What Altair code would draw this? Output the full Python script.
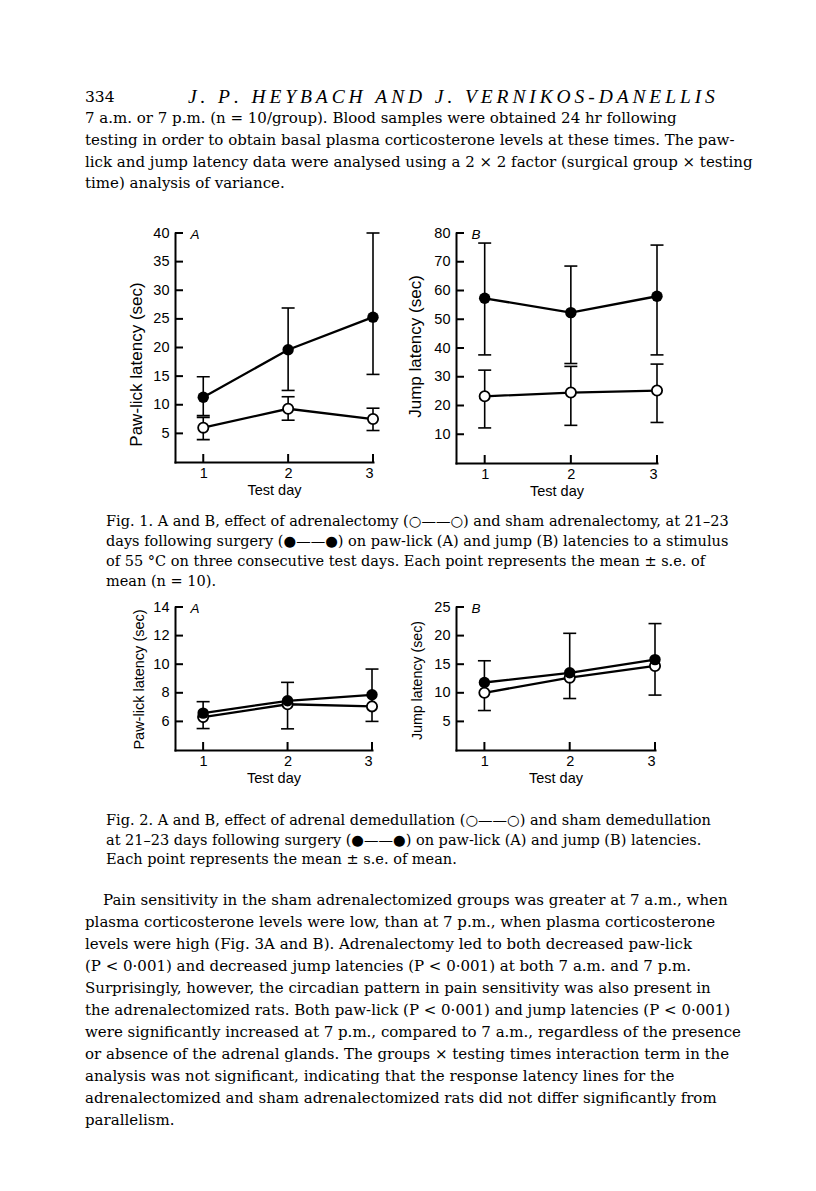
import altair as alt
import pandas as pd

SANS = "Liberation Sans"
SERIF = "DejaVu Serif"
HEAD_SERIF = "Liberation Serif"

DAYS = [1, 2, 3]
X_MIN = 0.667

# ---- Fig. 1A : paw-lick latency, adrenalectomy ----
F1A_SHAM_MEAN = [11.3, 19.6, 25.3]
F1A_SHAM_LO = [8.1, 12.5, 15.3]
F1A_SHAM_HI = [14.9, 26.9, 40.0]
F1A_ADX_MEAN = [6.0, 9.3, 7.5]
F1A_ADX_LO = [3.9, 7.3, 5.5]
F1A_ADX_HI = [7.8, 11.4, 9.4]
F1A_TICKS = [5, 10, 15, 20, 25, 30, 35, 40]

# ---- Fig. 1B : jump latency, adrenalectomy ----
F1B_SHAM_MEAN = [57.3, 52.3, 58.0]
F1B_SHAM_LO = [37.6, 34.6, 37.6]
F1B_SHAM_HI = [76.5, 68.5, 75.8]
F1B_ADX_MEAN = [23.2, 24.5, 25.2]
F1B_ADX_LO = [12.2, 13.1, 14.1]
F1B_ADX_HI = [32.3, 33.6, 34.4]
F1B_TICKS = [10, 20, 30, 40, 50, 60, 70, 80]

# ---- Fig. 2A : paw-lick latency, demedullation ----
F2A_SHAM_MEAN = [6.58, 7.44, 7.86]
F2A_SHAM_LO = [5.5, 5.48, 6.0]
F2A_SHAM_HI = [7.38, 8.73, 9.66]
F2A_DEM_MEAN = [6.3, 7.2, 7.05]
F2A_DEM_LO = [None, None, None]
F2A_DEM_HI = [None, None, None]
F2A_TICKS = [6, 8, 10, 12, 14]

# ---- Fig. 2B : jump latency, demedullation ----
F2B_SHAM_MEAN = [11.8, 13.5, 15.8]
F2B_SHAM_LO = [None, None, None]
F2B_SHAM_HI = [15.6, 20.4, 22.1]
F2B_DEM_MEAN = [10.0, 12.65, 14.7]
F2B_DEM_LO = [6.9, 9.0, 9.6]
F2B_DEM_HI = [None, None, None]
F2B_TICKS = [5, 10, 15, 20, 25]

# ---- page text ----
PAGE_NO = "334"
RUNNING_HEAD = "J. P. HEYBACH AND J. VERNIKOS-DANELLIS"
PARA_TOP = [
    "7 a.m. or 7 p.m. (n = 10/group). Blood samples were obtained 24 hr following",
    "testing in order to obtain basal plasma corticosterone levels at these times. The paw-",
    "lick and jump latency data were analysed using a 2 × 2 factor (surgical group × testing",
    "time) analysis of variance.",
]
CAPTION_1 = [
    "Fig. 1. A and B, effect of adrenalectomy (○——○) and sham adrenalectomy, at 21–23",
    "days following surgery (●——●) on paw-lick (A) and jump (B) latencies to a stimulus",
    "of 55 °C on three consecutive test days. Each point represents the mean ± s.e. of",
    "mean (n = 10).",
]
CAPTION_2 = [
    "Fig. 2. A and B, effect of adrenal demedullation (○——○) and sham demedullation",
    "at 21–23 days following surgery (●——●) on paw-lick (A) and jump (B) latencies.",
    "Each point represents the mean ± s.e. of mean.",
]
BODY = [
    "Pain sensitivity in the sham adrenalectomized groups was greater at 7 a.m., when",
    "plasma corticosterone levels were low, than at 7 p.m., when plasma corticosterone",
    "levels were high (Fig. 3A and B). Adrenalectomy led to both decreased paw-lick",
    "(P < 0·001) and decreased jump latencies (P < 0·001) at both 7 a.m. and 7 p.m.",
    "Surprisingly, however, the circadian pattern in pain sensitivity was also present in",
    "the adrenalectomized rats. Both paw-lick (P < 0·001) and jump latencies (P < 0·001)",
    "were significantly increased at 7 p.m., compared to 7 a.m., regardless of the presence",
    "or absence of the adrenal glands. The groups × testing times interaction term in the",
    "analysis was not significant, indicating that the response latency lines for the",
    "adrenalectomized and sham adrenalectomized rats did not differ significantly from",
    "parallelism.",
]

LEFT_W = 164


def panel(filled, hollow, ydom, yticks, ytitle, letter, w, h,
          title_size, title_x, title_y):
    pts, errs, caps = [], [], []
    for name, (mean, lo, hi) in (("open", hollow), ("filled", filled)):
        for d, m, l, u in zip(DAYS, mean, lo, hi):
            pts.append({"day": d, "v": m, "s": name})
            a = l if l is not None else m
            b = u if u is not None else m
            if a != b:
                errs.append({"day": d, "lo": a, "hi": b})
            for c in (l, u):
                if c is not None:
                    caps.append({"day": d, "v": c})
    pts = pd.DataFrame(pts)
    errs = pd.DataFrame(errs)
    caps = pd.DataFrame(caps)
    yt = pd.DataFrame({"v": yticks})
    xt = pd.DataFrame({"day": DAYS})

    xs = alt.Scale(domain=[X_MIN, 3], nice=False, zero=False)
    ys = alt.Scale(domain=ydom, nice=False, zero=False)

    xax = alt.Axis(values=DAYS, format="d", ticks=False, tickSize=0, grid=False,
                   domainColor="black", domainWidth=2, domainCap="square",
                   labelFont=SANS, labelFontSize=14.5, labelColor="black",
                   labelPadding=4, title="Test day", titleFont=SANS,
                   titleFontSize=14.5, titleFontWeight="normal", titleColor="black",
                   titleY=28, titleBaseline="middle")
    yax = alt.Axis(values=yticks, ticks=False, tickSize=0, grid=False,
                   domainColor="black", domainWidth=2, domainCap="square",
                   labelFont=SANS, labelFontSize=14.5, labelColor="black",
                   labelPadding=6, title=ytitle, titleFont=SANS,
                   titleFontSize=title_size, titleFontWeight="normal",
                   titleColor="black", titleX=title_x, titleY=title_y,
                   titleBaseline="middle", titleAlign="center", titleAngle=270)

    X = alt.X("day:Q", scale=xs, axis=xax)

    def Y(f):
        return alt.Y(f, scale=ys, axis=yax)

    rules = alt.Chart(errs).mark_rule(color="black", strokeWidth=1.6).encode(
        x=X, y=Y("lo:Q"), y2="hi:Q",
    )
    cap_marks = alt.Chart(caps).mark_tick(
        orient="horizontal", size=13, thickness=1.6, color="black", opacity=1
    ).encode(x=X, y=Y("v:Q"))
    ytick_marks = alt.Chart(yt).mark_tick(
        orient="horizontal", size=8, thickness=2, color="black", opacity=1
    ).encode(x=alt.value(4), y=Y("v:Q"))
    xtick_marks = alt.Chart(xt).mark_tick(
        orient="vertical", size=8, thickness=2, color="black", opacity=1
    ).encode(x=X, y=alt.value(h - 4))
    lines = alt.Chart(pts).mark_line(color="black", strokeWidth=2.3).encode(
        x=X, y=Y("v:Q"), detail="s:N",
    )
    open_pts = alt.Chart(pts).transform_filter(alt.datum.s == "open").mark_point(
        shape="circle", filled=True, fill="white", stroke="black",
        strokeWidth=1.8, size=105, opacity=1
    ).encode(x=X, y=Y("v:Q"))
    filled_pts = alt.Chart(pts).transform_filter(alt.datum.s == "filled").mark_circle(
        color="black", size=130, opacity=1
    ).encode(x=X, y=Y("v:Q"))
    lab = alt.Chart(pd.DataFrame({"t": [letter]})).mark_text(
        font=SANS, fontSize=13.5, fontStyle="italic", align="center",
        baseline="middle", color="black"
    ).encode(x=alt.value(20), y=alt.value(2), text="t:N")

    return alt.layer(rules, cap_marks, ytick_marks, xtick_marks, lines,
                     open_pts, filled_pts, lab).properties(width=w, height=h)


def spacer(w, h=1):
    return alt.Chart(pd.DataFrame({"a": [0]})).mark_point(opacity=0).encode(
        x=alt.value(0), y=alt.value(0)
    ).properties(width=w, height=h)


def text_block(lines, x_first, x_rest, y0, lead, size, style="normal", font=SERIF):
    df = pd.DataFrame({
        "t": lines,
        "x": [x_first if i == 0 else x_rest for i in range(len(lines))],
        "y": [y0 + i * lead for i in range(len(lines))],
    })
    return alt.Chart(df).mark_text(
        font=font, fontSize=size, fontStyle=style, align="left",
        baseline="middle", color="black"
    ).encode(
        x=alt.X("x:Q", scale=None, axis=None),
        y=alt.Y("y:Q", scale=None, axis=None),
        text="t:N",
    )


# ---- row 1: running head + paragraph ----
head = "\u2009".join(RUNNING_HEAD)
row1 = alt.layer(
    text_block([PAGE_NO], 74, 74, 86, 0, 15.5),
    text_block([head], 177, 177, 86, 0, 19.5, "italic", HEAD_SERIF),
    text_block(PARA_TOP, 74, 74, 107, 21.8, 15.0),
).properties(width=LEFT_W, height=222)

# ---- Fig. 1 ----
f1a = panel((F1A_SHAM_MEAN, F1A_SHAM_LO, F1A_SHAM_HI),
            (F1A_ADX_MEAN, F1A_ADX_LO, F1A_ADX_HI),
            [0, 40], F1A_TICKS, "Paw-lick latency (sec)", "A", 198, 229,
            17, -39, 131)
f1b = panel((F1B_SHAM_MEAN, F1B_SHAM_LO, F1B_SHAM_HI),
            (F1B_ADX_MEAN, F1B_ADX_LO, F1B_ADX_HI),
            [0, 80], F1B_TICKS, "Jump latency (sec)", "B", 201, 230,
            17, -41, 113)

# ---- caption 1 ----
row3 = text_block(CAPTION_1, 95, 95, 59, 20, 14.5).properties(width=LEFT_W, height=144)

# ---- Fig. 2 ----
f2a = panel((F2A_SHAM_MEAN, F2A_SHAM_LO, F2A_SHAM_HI),
            (F2A_DEM_MEAN, F2A_DEM_LO, F2A_DEM_HI),
            [4, 14], F2A_TICKS, "Paw-lick latency (sec)", "A", 197, 143,
            14.5, -36, 72)
f2b = panel((F2B_SHAM_MEAN, F2B_SHAM_LO, F2B_SHAM_HI),
            (F2B_DEM_MEAN, F2B_DEM_LO, F2B_DEM_HI),
            [0, 25], F2B_TICKS, "Jump latency (sec)", "B", 199, 143,
            14.2, -39, 73)

# ---- caption 2 + body ----
row5 = alt.layer(
    text_block(CAPTION_2, 95, 95, 71, 19.5, 14.5),
    text_block(BODY, 92, 74, 150, 22, 15.0),
).properties(width=LEFT_W, height=436)

cells = [
    row1, spacer(1), spacer(1), spacer(1),
    spacer(LEFT_W), f1a, spacer(83), f1b,
    row3, spacer(1), spacer(1), spacer(1),
    spacer(LEFT_W), f2a, spacer(83), f2b,
    row5, spacer(1), spacer(1), spacer(1),
]

chart = alt.concat(*cells, columns=4, spacing=0, bounds="flush").properties(
    padding=0
).configure_view(stroke=None)

chart.save("out.html", embed_options={"renderer": "svg", "actions": False})
